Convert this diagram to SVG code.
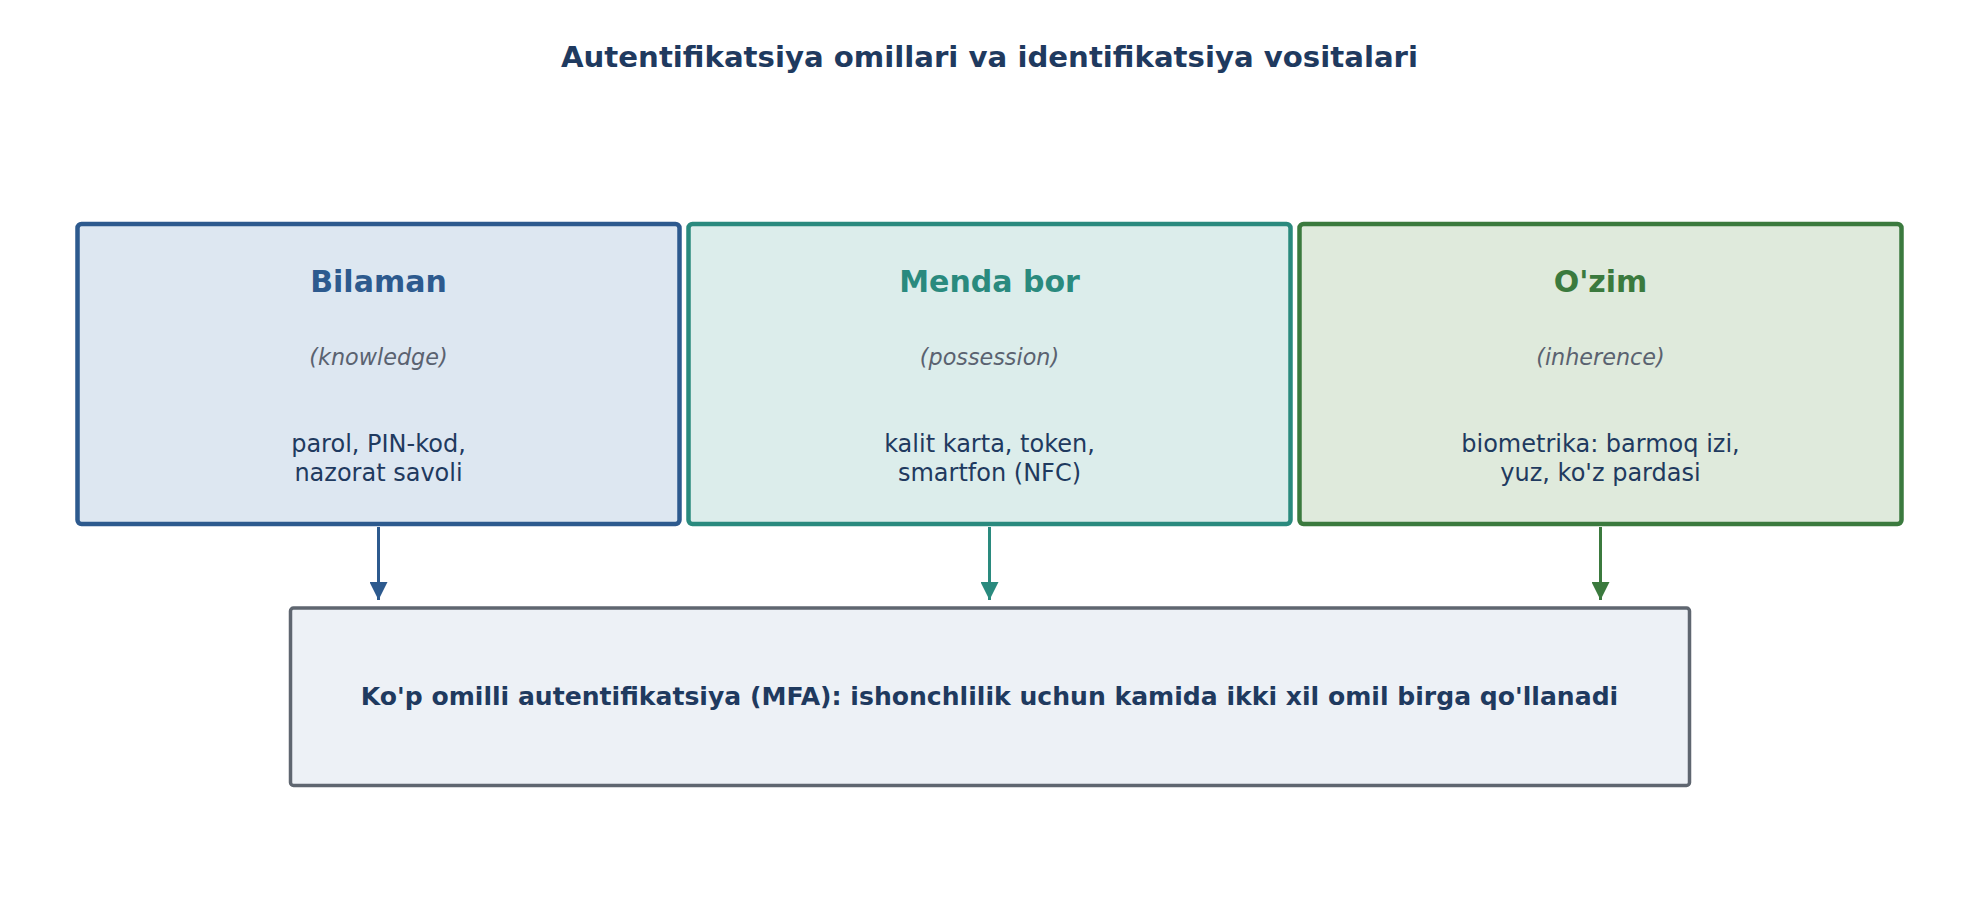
<svg xmlns="http://www.w3.org/2000/svg" width="1979" height="899" viewBox="0 0 1979 899">
<defs>
<style>
text{font-family:"DejaVu Sans","Liberation Sans",sans-serif;text-anchor:middle}
.title{font-size:29.2px;font-weight:bold;fill:#1f3a5f}
.hdr{font-size:30px;font-weight:bold}
.sub{font-size:22.3px;font-style:italic;fill:#5a6270}
.body{font-size:24px;fill:#1f3a5f}
.mfa{font-size:25.1px;font-weight:bold;fill:#1f3a5f}
.box{stroke-width:4.5}
</style>
<marker id="aB" viewBox="0 0 18 18" refX="9" refY="18" markerWidth="18" markerHeight="18" markerUnits="userSpaceOnUse"><path d="M0,0 L18,0 L9,18 Z" fill="#2d5a8e"/></marker>
<marker id="aT" viewBox="0 0 18 18" refX="9" refY="18" markerWidth="18" markerHeight="18" markerUnits="userSpaceOnUse"><path d="M0,0 L18,0 L9,18 Z" fill="#2a8a7e"/></marker>
<marker id="aG" viewBox="0 0 18 18" refX="9" refY="18" markerWidth="18" markerHeight="18" markerUnits="userSpaceOnUse"><path d="M0,0 L18,0 L9,18 Z" fill="#3b7a3e"/></marker>
</defs>
<rect width="1979" height="899" fill="#ffffff"/>
<text class="title" x="989.5" y="67">Autentifikatsiya omillari va identifikatsiya vositalari</text>
<g id="node-bilaman">
<rect class="box" x="77.5" y="224" width="602" height="300" rx="4" fill="#dde7f1" stroke="#2d5a8e"/>
<text class="hdr" x="378.5" y="292" fill="#2d5a8e">Bilaman</text>
<text class="sub" x="378.5" y="365">(knowledge)</text>
<text class="body" x="378.5" y="452">parol, PIN-kod,</text>
<text class="body" x="378.5" y="480.5">nazorat savoli</text>
</g>
<g id="node-menda-bor">
<rect class="box" x="688.5" y="224" width="602" height="300" rx="4" fill="#dcedeb" stroke="#2a8a7e"/>
<text class="hdr" x="989.5" y="292" fill="#2a8a7e">Menda bor</text>
<text class="sub" x="989.5" y="365">(possession)</text>
<text class="body" x="989.5" y="452">kalit karta, token,</text>
<text class="body" x="989.5" y="480.5">smartfon (NFC)</text>
</g>
<g id="node-ozim">
<rect class="box" x="1299.5" y="224" width="602" height="300" rx="4" fill="#dfeadc" stroke="#3b7a3e"/>
<text class="hdr" x="1600.5" y="292" fill="#3b7a3e">O'zim</text>
<text class="sub" x="1600.5" y="365">(inherence)</text>
<text class="body" x="1600.5" y="452">biometrika: barmoq izi,</text>
<text class="body" x="1600.5" y="480.5">yuz, ko'z pardasi</text>
</g>
<g id="node-mfa">
<rect x="290.5" y="608" width="1399" height="177.5" rx="3" fill="#edf1f6" stroke="#5f6670" stroke-width="3.5"/>
<text class="mfa" x="989.5" y="705">Ko'p omilli autentifikatsiya (MFA): ishonchlilik uchun kamida ikki xil omil birga qo'llanadi</text>
</g>
<g id="connectors" stroke-width="3" fill="none">
<line x1="378.5" y1="527" x2="378.5" y2="600" stroke="#2d5a8e" marker-end="url(#aB)"/>
<line x1="989.5" y1="527" x2="989.5" y2="600" stroke="#2a8a7e" marker-end="url(#aT)"/>
<line x1="1600.5" y1="527" x2="1600.5" y2="600" stroke="#3b7a3e" marker-end="url(#aG)"/>
</g>
</svg>
